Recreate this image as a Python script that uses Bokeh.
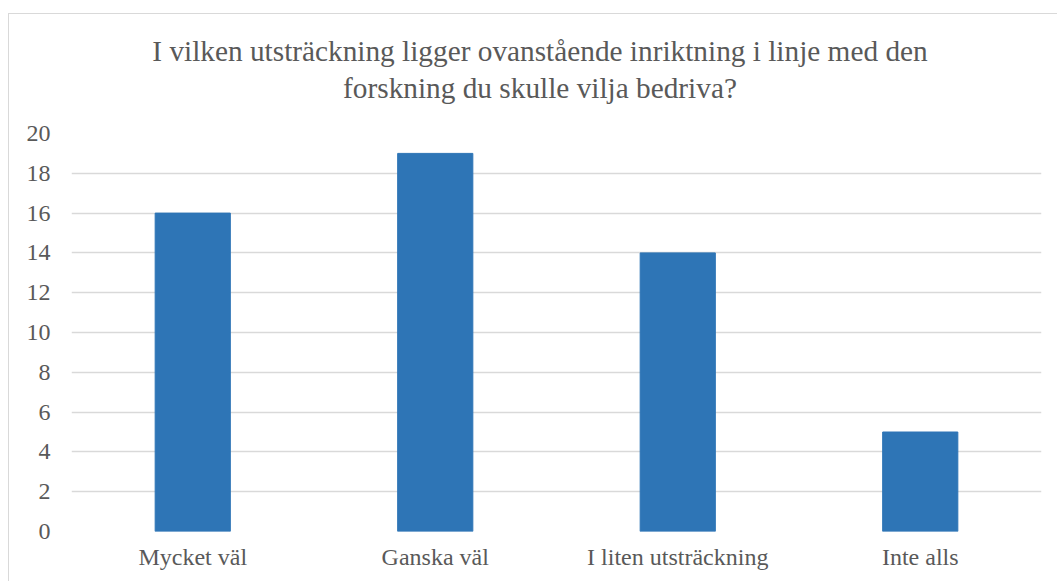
from bokeh.plotting import figure
from bokeh.models import Div, FactorRange, Range1d, FixedTicker
from bokeh.layouts import column
from bokeh.embed import file_html
from bokeh.resources import INLINE

categories = ["Mycket väl", "Ganska väl", "I liten utsträckning", "Inte alls"]
values = [16, 19, 14, 5]
y_ticks = [0, 2, 4, 6, 8, 10, 12, 14, 16, 18, 20]
title_lines = ["I vilken utsträckning ligger ovanstående inriktning i linje med den",
               "forskning du skulle vilja bedriva?"]

FONT = "Liberation Serif"
TXT = "#595959"

title = Div(text="<br>".join(title_lines), width=1049, height=105, margin=0,
            styles={"box-sizing": "border-box", "padding-left": "13px", "padding-top": "19px",
                    "text-align": "center", "font-family": FONT, "font-size": "29.3px",
                    "line-height": "37px", "color": TXT})

p = figure(x_range=FactorRange(*categories, range_padding=0), y_range=Range1d(0, 20),
           width=1049, height=462, output_backend="svg", toolbar_location=None,
           min_border_left=62, min_border_right=17, min_border_top=14, min_border_bottom=50)
p.margin = 0
p.title = None

p.vbar(x=categories, top=values, width=0.31, color="#2E75B6", line_color="#2E75B6")

p.outline_line_color = None
p.xgrid.grid_line_color = None
p.ygrid.grid_line_color = "#d9d9d9"
p.ygrid.grid_line_width = 1.5
p.yaxis.ticker = FixedTicker(ticks=y_ticks)
for ax in (p.xaxis[0], p.yaxis[0]):
    ax.axis_line_color = None
    ax.major_tick_line_color = None
    ax.minor_tick_line_color = None
    ax.major_tick_out = 0
    ax.major_tick_in = 0
    ax.major_label_text_font = FONT
    ax.major_label_text_font_size = "24px"
    ax.major_label_text_color = TXT
p.yaxis.major_label_standoff = 21
p.xaxis.major_label_standoff = 12

layout = column(title, p, spacing=0)
layout.margin = (13, 0, 0, 8)
layout.styles = {"border-top": "1px solid #d9d9d9", "border-left": "1px solid #d9d9d9"}

open("out.html", "w").write(file_html(layout, INLINE))
